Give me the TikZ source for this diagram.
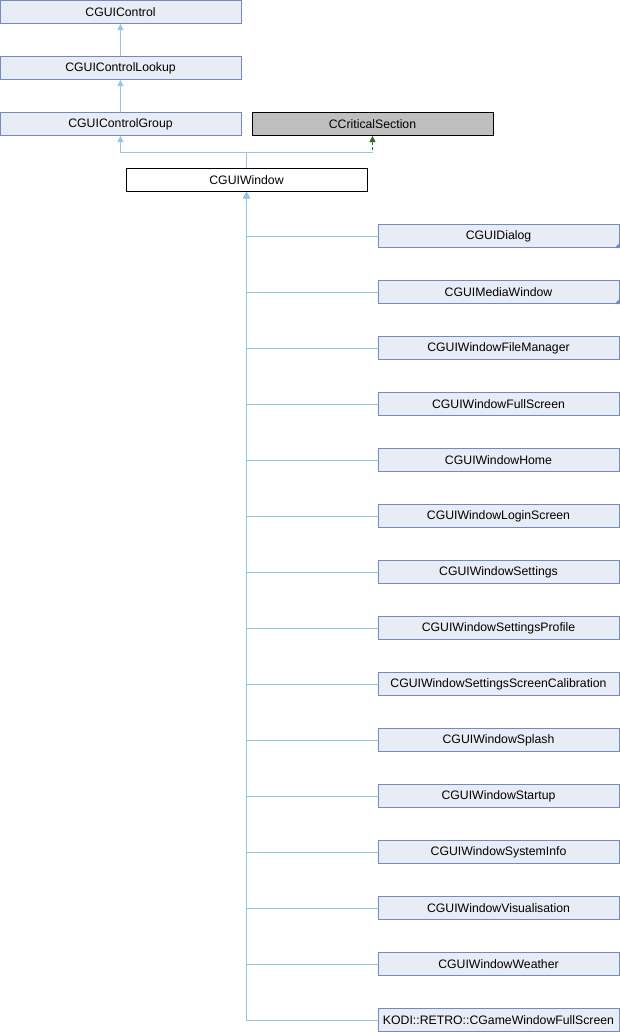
\documentclass[tikz,border=0pt]{standalone}
\usepackage{fontspec}
\setmainfont{Liberation Sans}
\usetikzlibrary{arrows.meta}
\definecolor{boxfill}{HTML}{E8ECF5}
\definecolor{boxline}{HTML}{7389C4}
\definecolor{edgeblue}{HTML}{94C6E4}
\definecolor{grayfill}{HTML}{BFBFBF}
\definecolor{dgreen}{HTML}{2A6E1E}
\tikzset{
  cls/.style={draw=boxline, fill=boxfill, line width=0.75pt, minimum width=180.75pt, minimum height=17.25pt, inner sep=0pt, font=\fontsize{9.2pt}{10pt}\selectfont},
  extcls/.style={cls, draw=black, fill=grayfill},
  curcls/.style={cls, draw=black, fill=white},
  edgeline/.style={draw=edgeblue, line width=0.75pt},
  edge/.style={edgeline, -{Triangle[length=4.5pt,width=4.5pt,fill=edgeblue]}},
  gedge/.style={draw=dgreen, line width=0.75pt, dashed, dash pattern=on 2pt off 2pt, -{Triangle[length=4.5pt,width=4.5pt,fill=dgreen]}},
  trunc/.style={fill=boxline, draw=none}
}
\begin{document}
\begin{tikzpicture}[x=0.75pt, y=-0.75pt]
\useasboundingbox (0,0) rectangle (620,1032);
\node[cls] (ctrl) at (120.5,12) {CGUIControl};
\node[cls] (lookup) at (120.5,68) {CGUIControlLookup};
\node[cls] (group) at (120.5,124) {CGUIControlGroup};
\node[extcls] (cs) at (372.5,124) {CCriticalSection};
\node[curcls] (win) at (246.5,180) {CGUIWindow};
\draw[edge] (lookup.north) -- (ctrl.south);
\draw[edge] (group.north) -- (lookup.south);
\coordinate (j) at (246.5,152);
\draw[gedge] (j) -| (cs.south);
\draw[edgeline] (j) -- (j -| cs.south);
\draw[edge] (win.north) -- (j) -| (group.south);
\foreach \n/\t [count=\i from 0] in {
  c0/CGUIDialog, c1/CGUIMediaWindow, c2/CGUIWindowFileManager, c3/CGUIWindowFullScreen,
  c4/CGUIWindowHome, c5/CGUIWindowLoginScreen, c6/CGUIWindowSettings, c7/CGUIWindowSettingsProfile,
  c8/CGUIWindowSettingsScreenCalibration, c9/CGUIWindowSplash, c10/CGUIWindowStartup,
  c11/CGUIWindowSystemInfo, c12/CGUIWindowVisualisation, c13/CGUIWindowWeather,
  c14/KODI::RETRO::CGameWindowFullScreen}{
  \node[cls] (\n) at (498.5,{236+56*\i}) {\t};
  \draw[edge] (\n.west) -| (win.south);
}
\fill[trunc] (c0.south east) -- ++(0,-5) -- ++(-5,5) -- cycle;
\fill[trunc] (c1.south east) -- ++(0,-5) -- ++(-5,5) -- cycle;
\end{tikzpicture}
\end{document}
